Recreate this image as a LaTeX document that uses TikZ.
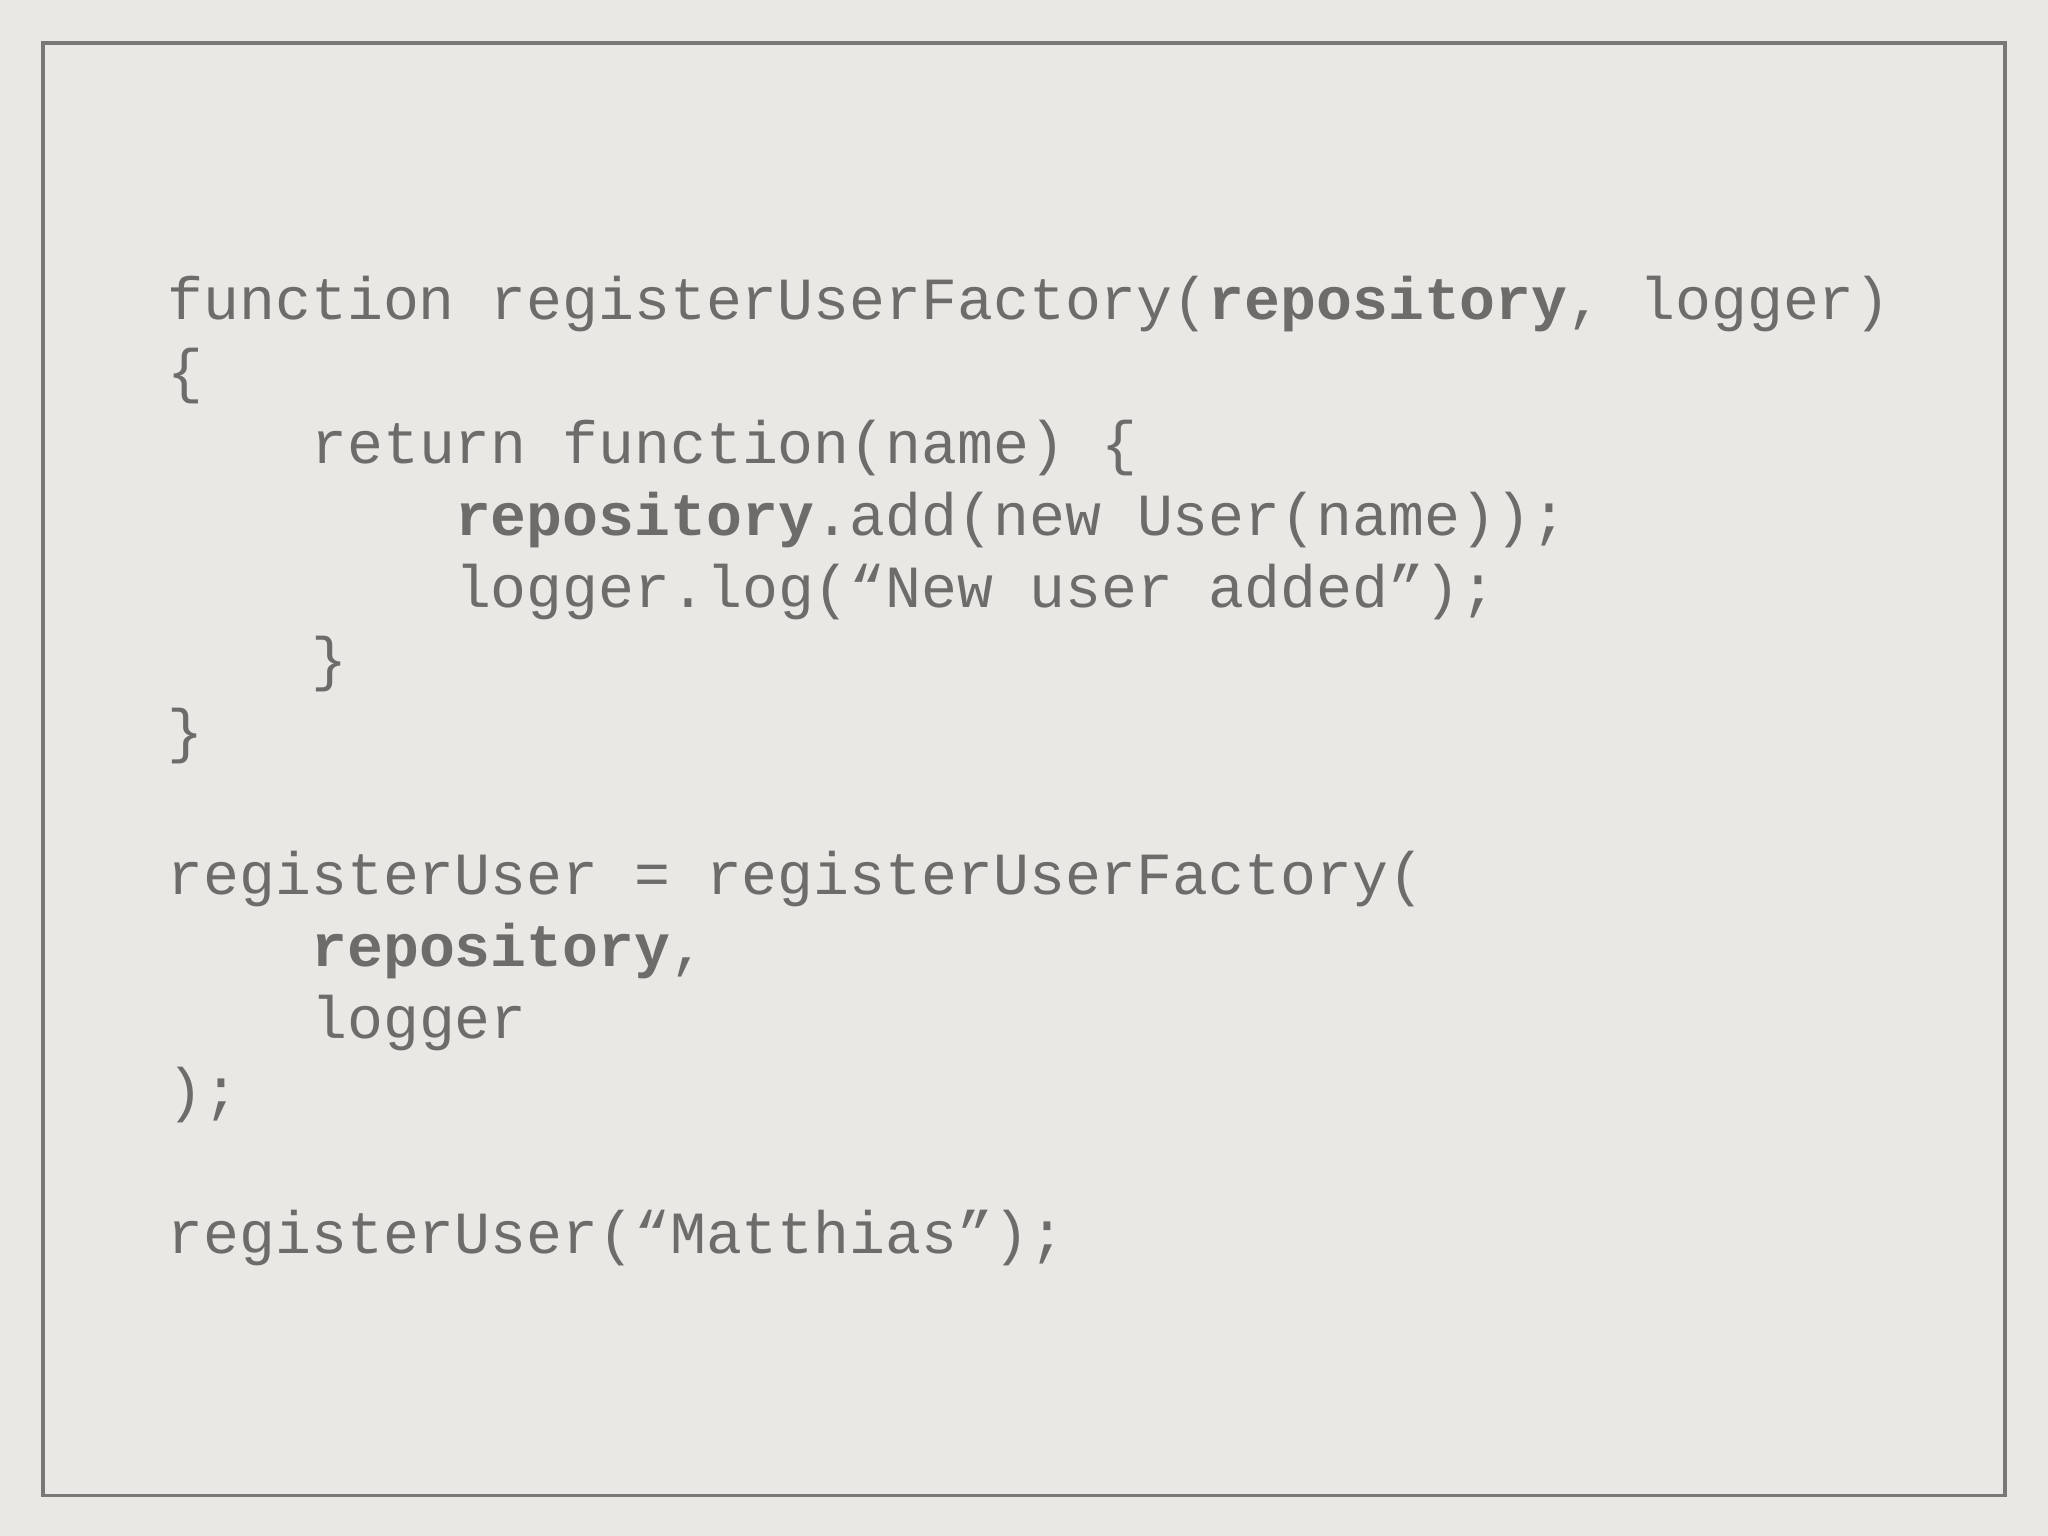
\documentclass[tikz,border=0pt]{standalone}
\usepackage{fontspec}
\setmonofont{Liberation Mono}
\definecolor{bg}{HTML}{E9E8E4}
\definecolor{ink}{HTML}{6E6C6A}
\definecolor{frame}{HTML}{7A7876}
\begin{document}
\begin{tikzpicture}[x=0.5pt,y=-0.5pt,
  code/.style={anchor=base west,inner sep=0pt,text=ink,font=\ttfamily\fontsize{22.9pt}{27.5pt}\selectfont}]
\fill[bg] (0,0) rectangle (1568,1176);
\useasboundingbox (0,0) rectangle (1568,1176);
\draw[frame,line width=1.5pt] (33,33) rectangle (1535,1145);
\node[code] (l0) at (128,245) {function registerUserFactory(\textbf{repository}, logger)};
\node[code] (l1) at (128,300) {\{};
\node[code] (l2) at (238,355) {return function(name) \{};
\node[code] (l3) at (348,410) {\textbf{repository}.add(new User(name));};
\node[code] (l4) at (348,465) {logger.log(“New user added”);};
\node[code] (l5) at (238,520) {\}};
\node[code] (l6) at (128,575) {\}};
\node[code] (l8) at (128,685) {registerUser = registerUserFactory(};
\node[code] (l9) at (238,740) {\textbf{repository},};
\node[code] (l10) at (238,795) {logger};
\node[code] (l11) at (128,850) {);};
\node[code] (l13) at (128,960) {registerUser(“Matthias”);};
\end{tikzpicture}
\end{document}
